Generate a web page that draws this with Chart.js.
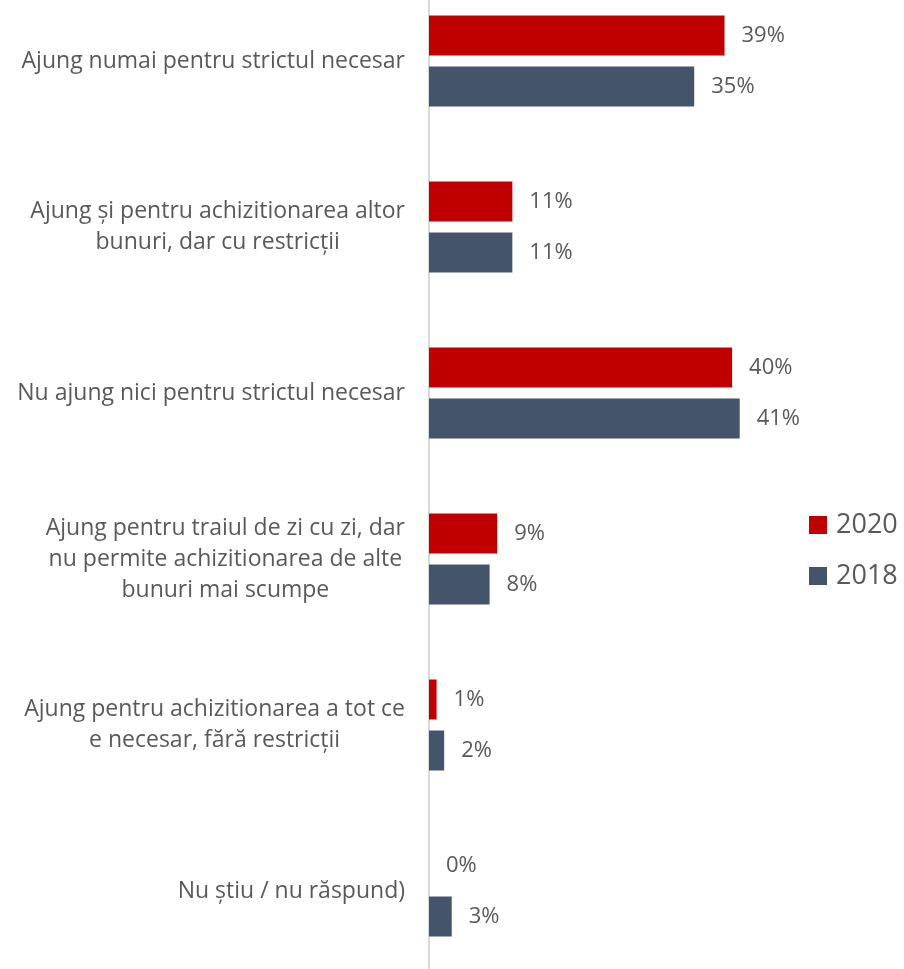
<!DOCTYPE html>
<html>
<head>
<meta charset="utf-8">
<script src="https://cdn.jsdelivr.net/npm/chart.js@4"></script>
<style>
  html, body { margin: 0; padding: 0; background: #fff; overflow: hidden; }
  body { width: 904px; height: 969px; position: relative; font-family: 'Open Sans', sans-serif; }
  #wrap { position: absolute; left: 0; top: -22px; width: 904px; height: 996px; }
  .legend { position: absolute; left: 809px; color: #595959; font-size: 27px; line-height: 1; }
  .legend span { display: inline-block; width: 18px; height: 18px; margin-right: 9px; vertical-align: -1px; }
</style>
</head>
<body>
<div id="wrap"><canvas id="chart"></canvas></div>
<div class="legend" style="top:509px"><span style="background:#C00000"></span>2020</div>
<div class="legend" style="top:560px"><span style="background:#44546A"></span>2018</div>
<script>
// categories (multi-line labels, as in the source)
const categories = [
  ['Ajung numai pentru strictul necesar'],
  ['Ajung și pentru achizitionarea altor', 'bunuri, dar cu restricții'],
  ['Nu ajung nici pentru strictul necesar'],
  ['Ajung pentru traiul de zi cu zi, dar', 'nu permite achizitionarea de alte', 'bunuri mai scumpe'],
  ['Ajung pentru achizitionarea a tot ce', 'e necesar, fără restricții'],
  ['Nu știu / nu răspund)']
];
const values2020 = [39, 11, 40, 9, 1, 0];
const values2018 = [35, 11, 41, 8, 2, 3];

const textColor = '#595959';
const fontFamily = "'Open Sans', sans-serif";

// draws the category labels (right aligned block, centred lines) and value labels
const labelPlugin = {
  id: 'labels',
  afterDatasetsDraw(chart) {
    const ctx = chart.ctx;
    const yScale = chart.scales.y;
    ctx.save();
    ctx.fillStyle = textColor;
    ctx.textBaseline = 'middle';

    // category labels
    ctx.font = '23px ' + fontFamily;
    ctx.textAlign = 'center';
    const lineH = 31;
    categories.forEach((lines, i) => {
      const y = yScale.getPixelForTick(i);
      const w = Math.max(...lines.map(l => ctx.measureText(l).width));
      const cx = yScale.right - 24 - w / 2;
      const y0 = y - (lines.length - 1) * lineH / 2;
      lines.forEach((l, j) => ctx.fillText(l, cx, y0 + j * lineH));
    });

    // value labels
    ctx.font = '22px ' + fontFamily;
    ctx.textAlign = 'left';
    chart.data.datasets.forEach((ds, di) => {
      chart.getDatasetMeta(di).data.forEach((bar, i) => {
        ctx.fillText(ds.data[i] + '%', bar.x + 17, bar.y);
      });
    });
    ctx.restore();
  }
};

new Chart(document.getElementById('chart'), {
  type: 'bar',
  data: {
    labels: categories,
    datasets: [
      { label: '2020', data: values2020, backgroundColor: '#C00000' },
      { label: '2018', data: values2018, backgroundColor: '#44546A' }
    ]
  },
  options: {
    indexAxis: 'y',
    responsive: true,
    maintainAspectRatio: false,
    animation: false,
    categoryPercentage: 0.6145,
    barPercentage: 0.784,
    layout: { padding: { left: 0, right: 134, top: 0, bottom: 0 } },
    plugins: { legend: { display: false }, tooltip: { enabled: false } },
    scales: {
      x: { display: false, min: 0, max: 45 },
      y: {
        grid: { display: false, drawTicks: false },
        border: { display: true, color: '#D9D9D9', width: 2 },
        ticks: { display: false },
        afterFit: (scale) => { scale.width = 429; }
      }
    }
  },
  plugins: [labelPlugin]
});
</script>
</body>
</html>
